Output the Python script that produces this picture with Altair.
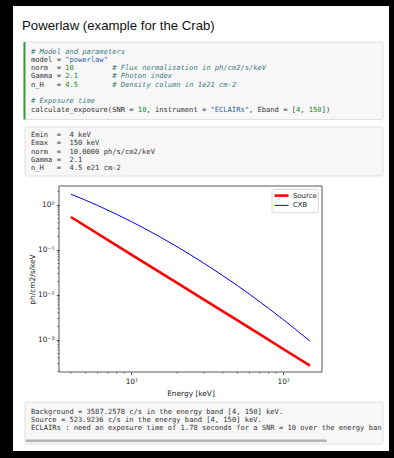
import re
import altair as alt
import pandas as pd

# ------------------------------------------------------------------ data
title_text = "Powerlaw (example for the Crab)"

code_lines = [
    "# Model and parameters",
    'model = "powerlaw"',
    "norm  = 10" + " " * 9 + "# Flux normalisation in ph/cm2/s/keV",
    "Gamma = 2.1" + " " * 8 + "# Photon index",
    "n_H   = 4.5" + " " * 8 + "# Density column in 1e21 cm-2",
    "",
    "# Exposure time",
    'calculate_exposure(SNR = 10, instrument = "ECLAIRs", Eband = [4, 150])',
]

out1_lines = [
    "Emin  =  4 keV",
    "Emax  =  150 keV",
    "norm  =  10.0000 ph/s/cm2/keV",
    "Gamma =  2.1",
    "n_H   =  4.5 e21 cm-2",
]

out2_lines = [
    "Background = 3587.2578 c/s in the energy band [4, 150] keV.",
    "Source = 523.9236 c/s in the energy band [4, 150] keV.",
    "ECLAIRs : need an exposure time of 1.78 seconds for a SNR = 10 over the energy band [4, 150] keV.",
]

x_title = "Energy [keV]"
y_title = "ph/cm2/s/keV"

series_names = ["Source", "CXB"]

energy_source = [4, 10, 20, 50, 100, 150]
flux_source = [0.54, 0.079, 0.0185, 0.00272, 0.00063, 0.00027]

energy_cxb = [4, 5, 6, 8, 10, 15, 20, 30, 40, 50, 60, 80, 100, 120, 150]
flux_cxb = [1.74, 1.275, 0.974, 0.62, 0.427, 0.206, 0.118, 0.0509, 0.0269,
            0.0161, 0.0104, 0.00506, 0.00284, 0.00174, 0.00094]

x_major = [10, 100]
x_major_labels = ["10¹", "10²"]
y_major = [0.001, 0.01, 0.1, 1]
y_major_labels = ["10⁻³", "10⁻²", "10⁻¹", "10⁰"]
x_minor = [4, 5, 6, 7, 8, 9, 20, 30, 40, 50, 60, 70, 80, 90]
y_minor = [0.0002, 0.0003, 0.0004, 0.0005, 0.0006, 0.0007, 0.0008, 0.0009,
           0.002, 0.003, 0.004, 0.005, 0.006, 0.007, 0.008, 0.009,
           0.02, 0.03, 0.04, 0.05, 0.06, 0.07, 0.08, 0.09,
           0.2, 0.3, 0.4, 0.5, 0.6, 0.7, 0.8, 0.9, 2]
x_domain = [3.34, 180]
y_domain = [1.94e-4, 2.64]

# ------------------------------------------------------------------ layout / style
PAGE_W, PAGE_H = 394, 458
L, T = 59, 186          # plot area origin on the page
W, H = 263, 186         # plot area size

def px(x):
    return x - L

def py(y):
    return y - T

MONO = "DejaVu Sans Mono"
MONO_SIZE = 7.1
CW = 0.602 * MONO_SIZE
LH = 8.3
TEXT_X0 = 31
BOX_L, BOX_R = 24, 383
PLOT_FONT = "DejaVu Sans"
PLOT_FS = 7.4
INK = "#222222"

kind_colors = {"text": "#333333", "comment": "#3d7a7a", "string": "#2f5fa8",
               "number": "#228b22"}
series_colors = ["#ff0000", "#0000ff"]
series_widths = [2.6, 1.0]


def tokenize(lines, highlight, max_cols=None):
    rows = []
    for li, line in enumerate(lines):
        if max_cols is not None:
            line = line[:max_cols]
        kinds = ["text"] * len(line)
        if highlight:
            i = 0
            while i < len(line):
                ch = line[i]
                if ch == "#":
                    for j in range(i, len(line)):
                        kinds[j] = "comment"
                    break
                if ch == '"':
                    j = line.index('"', i + 1)
                    for k in range(i, j + 1):
                        kinds[k] = "string"
                    i = j + 1
                    continue
                m = re.match(r"\d+(\.\d+)?", line[i:])
                if m and (i == 0 or not (line[i - 1].isalnum() or line[i - 1] == "_")):
                    for k in range(i, i + m.end()):
                        kinds[k] = "number"
                    i += m.end()
                    continue
                i += 1
        col = 0
        while col < len(line):
            if line[col] == " ":
                col += 1
                continue
            start = col
            k = kinds[col]
            while col < len(line) and line[col] != " " and kinds[col] == k:
                col += 1
            rows.append(dict(line=li, col=start, text=line[start:col], kind=k))
    return pd.DataFrame(rows)


def text_block(df, x0, y0, kind, italic=False):
    return (
        alt.Chart(df)
        .transform_filter(alt.datum.kind == kind)
        .transform_calculate(
            tx=f"{px(x0)} + datum.col * {CW}",
            ty=f"{py(y0)} + datum.line * {LH}",
        )
        .mark_text(align="left", baseline="middle", font=MONO, fontSize=MONO_SIZE,
                   color=kind_colors[kind], fontStyle="italic" if italic else "normal")
        .encode(x=alt.X("tx:Q", scale=None), y=alt.Y("ty:Q", scale=None), text="text:N")
    )


def rect(x1, y1, x2, y2, **kw):
    return (
        alt.Chart(pd.DataFrame({"a": [0]}))
        .mark_rect(**kw)
        .encode(x=alt.value(px(x1)), x2=alt.value(px(x2)),
                y=alt.value(py(y1)), y2=alt.value(py(y2)))
    )


# ------------------------------------------------------------------ notebook decoration
panel = rect(13, 6, 389, 451, color="white")
code_box = rect(BOX_L, 42, BOX_R, 119.5, fill="#f7f7f7", stroke="#e0e0e0", strokeWidth=1,
                cornerRadius=2)
green_bar = rect(BOX_L - 0.5, 42, BOX_L + 1.5, 119.5, color="#3b9a3b")
out1_box = rect(BOX_L + 1, 127, BOX_R, 176, fill="#f7f7f7", stroke="#e0e0e0", strokeWidth=1,
                cornerRadius=2)
out2_box = rect(BOX_L + 1, 402, BOX_R, 444, fill="#f7f7f7", stroke="#e0e0e0", strokeWidth=1,
                cornerRadius=2)
scroll_thumb = rect(BOX_L + 1.5, 439.5, 327, 442, color="#b3b3b3", cornerRadius=1.2)

title = (
    alt.Chart(pd.DataFrame({"t": [title_text]}))
    .mark_text(align="left", baseline="alphabetic", font="Liberation Sans", fontSize=13.2,
               color="#111111")
    .encode(x=alt.value(px(22)), y=alt.value(py(30)), text="t:N")
)

code_df = tokenize(code_lines, True)
max_cols = int((BOX_R - TEXT_X0) // CW)
out1_df = tokenize(out1_lines, False)
out2_df = tokenize(out2_lines, False, max_cols=max_cols)

code_layers = [text_block(code_df, TEXT_X0, 51.5, k, italic=(k == "comment"))
               for k in ["text", "comment", "string", "number"]]
out1_layer = text_block(out1_df, TEXT_X0, 135, "text")
out2_layer = text_block(out2_df, TEXT_X0, 411.5, "text")

# ------------------------------------------------------------------ plot
xs = alt.Scale(type="log", domain=x_domain, nice=False)
ys = alt.Scale(type="log", domain=y_domain, nice=False)


def label_expr(vals, labels):
    return f"{labels}[indexof({vals}, datum.value)]"


x_axis = alt.Axis(values=x_major, labelExpr=label_expr(x_major, x_major_labels),
                  title=x_title, grid=False, domain=False, tickSize=2.6, tickColor=INK,
                  tickWidth=0.8, labelFont=PLOT_FONT, labelFontSize=PLOT_FS,
                  labelColor=INK, labelPadding=2.5, titleFont=PLOT_FONT,
                  titleFontSize=PLOT_FS, titleFontWeight="normal", titleColor=INK,
                  titleY=21.5, titleBaseline="middle", zindex=1)
y_axis = alt.Axis(values=y_major, labelExpr=label_expr(y_major, y_major_labels),
                  title=y_title, grid=False, domain=False, tickSize=2.6, tickColor=INK,
                  tickWidth=0.8, labelFont=PLOT_FONT, labelFontSize=PLOT_FS,
                  labelColor=INK, labelPadding=2.5, titleFont=PLOT_FONT,
                  titleFontSize=PLOT_FS, titleFontWeight="normal", titleColor=INK,
                  titleX=px(32), titleY=H / 2, titleAngle=270, titleAlign="center",
                  titleBaseline="middle", zindex=1)

rows = []
for name, es, fs in [(series_names[0], energy_source, flux_source),
                     (series_names[1], energy_cxb, flux_cxb)]:
    for e, f in zip(es, fs):
        rows.append(dict(series=name, energy=e, flux=f))
lines_df = pd.DataFrame(rows)

color_scale = alt.Scale(domain=series_names, range=series_colors)
width_scale = alt.Scale(domain=series_names, range=series_widths)

frame = rect(L, T, L + W, T + H, fill="white", fillOpacity=0, stroke="#444444",
             strokeWidth=0.9)

lines = (
    alt.Chart(lines_df)
    .mark_line(interpolate="monotone")
    .encode(
        x=alt.X("energy:Q", scale=xs, axis=x_axis),
        y=alt.Y("flux:Q", scale=ys, axis=y_axis),
        color=alt.Color("series:N", scale=color_scale, legend=None),
        strokeWidth=alt.StrokeWidth("series:N", scale=width_scale, legend=None),
        detail="series:N",
        order=alt.Order("energy:Q"),
    )
)

x_minor_ticks = (
    alt.Chart(pd.DataFrame({"v": x_minor}))
    .mark_rule(color=INK, strokeWidth=0.6)
    .encode(x=alt.X("v:Q", scale=xs, axis=x_axis), y=alt.value(H), y2=alt.value(H + 1.6))
)
y_minor_ticks = (
    alt.Chart(pd.DataFrame({"v": y_minor}))
    .mark_rule(color=INK, strokeWidth=0.6)
    .encode(y=alt.Y("v:Q", scale=ys, axis=y_axis), x=alt.value(0), x2=alt.value(-1.6))
)

# legend (manual, matplotlib style)
legend_df = pd.DataFrame({"series": series_names, "idx": list(range(len(series_names)))})
legend_box = rect(272, 189.3, 318.3, 212.7, fill="white", fillOpacity=0.8,
                  stroke="#cccccc", strokeWidth=0.8, cornerRadius=2)
legend_lines = (
    alt.Chart(legend_df)
    .transform_calculate(ly=f"{py(195.6)} + datum.idx * 9.8")
    .mark_rule()
    .encode(
        x=alt.value(px(274.5)), x2=alt.value(px(288.5)),
        y=alt.Y("ly:Q", scale=None),
        color=alt.Color("series:N", scale=color_scale, legend=None),
        strokeWidth=alt.StrokeWidth("series:N", scale=width_scale, legend=None),
    )
)
legend_text = (
    alt.Chart(legend_df)
    .transform_calculate(ly=f"{py(195.6)} + datum.idx * 9.8")
    .mark_text(align="left", baseline="middle", font=PLOT_FONT, fontSize=6.9, color=INK)
    .encode(x=alt.value(px(293)), y=alt.Y("ly:Q", scale=None), text="series:N")
)

chart = (
    alt.layer(
        panel, code_box, green_bar, out1_box, out2_box, scroll_thumb, title,
        *code_layers, out1_layer, out2_layer,
        frame, x_minor_ticks, y_minor_ticks, lines,
        legend_box, legend_lines, legend_text,
    )
    .properties(
        width=W, height=H,
        padding={"left": L, "top": T, "right": PAGE_W - L - W, "bottom": PAGE_H - T - H},
        autosize=alt.AutoSizeParams(type="none"),
        background="black",
    )
    .configure_view(stroke=None)
)

chart.save("out.html", embed_options={"renderer": "svg", "actions": False})
